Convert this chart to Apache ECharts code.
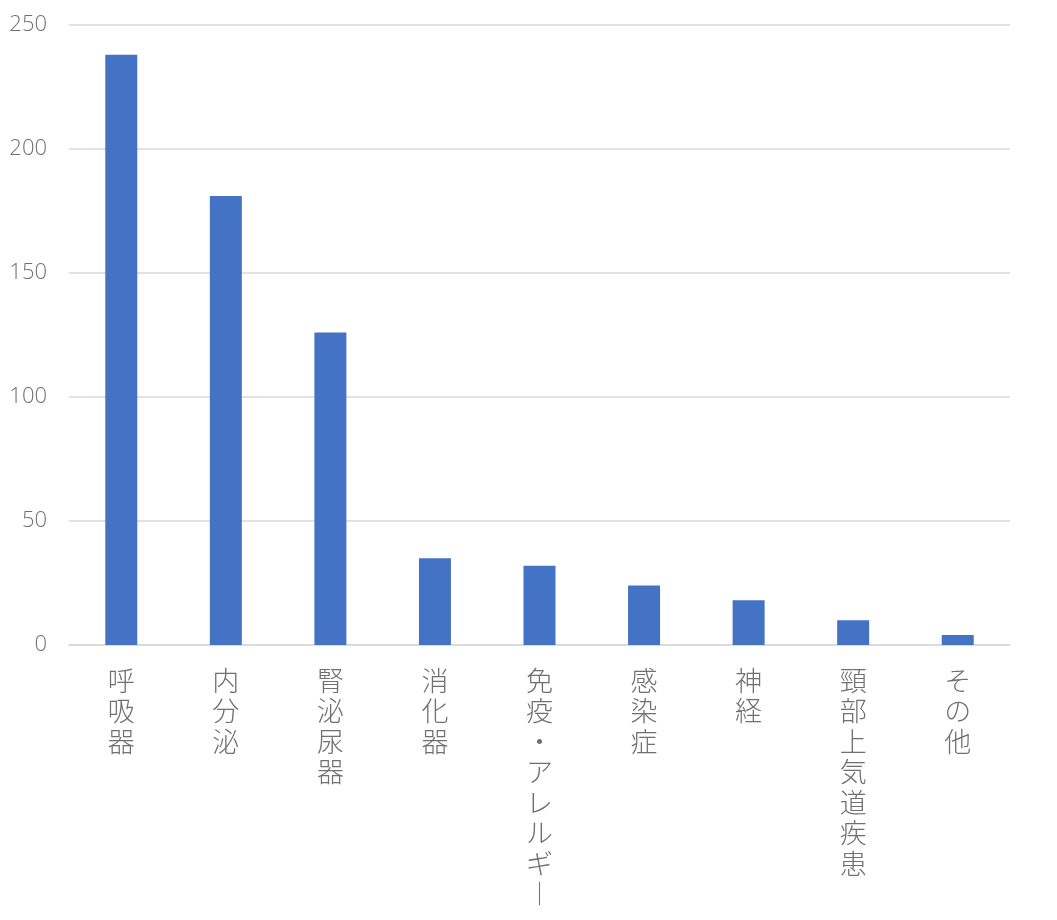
<!DOCTYPE html>
<html>
<head>
<meta charset="utf-8">
<script src="https://cdn.jsdelivr.net/npm/echarts@6/dist/echarts.min.js"></script>
<style>
  html, body { margin: 0; padding: 0; background: #fff; }
  #chart { width: 1057px; height: 920px; }
</style>
</head>
<body>
<div id="chart"></div>
<script>
var categories = ['呼吸器', '内分泌', '腎泌尿器', '消化器', '免疫・アレルギー', '感染症', '神経', '頸部上気道疾患', 'その他'];
var counts = [238, 181, 126, 35, 32, 24, 18, 10, 4];
var yTicks = [0, 50, 100, 150, 200, 250];

// 縦書き用: 一文字ずつ改行、長音は縦書き形に
function vertical(s) {
	return s.split('').map(function(c){
		return c === 'ー' ? '︱' : c;
	}).join('\n');
}

var myChart = echarts.init(document.getElementById('chart'));
var option = {
	animation: false,
	textStyle: {
		fontFamily: '"Noto Sans CJK JP", "Noto Sans", sans-serif'
	},
	grid: {
		left: 69,
		right: 47,
		top: 25,
		bottom: 275
	},
	xAxis: {
		type: 'category',
		data: categories,
		axisLine: { lineStyle: { color: '#d9d9d9', width: 1.5 } },
		axisTick: { show: false },
		axisLabel: {
			interval: 0,
			margin: 20,
			color: '#707070',
			fontSize: 27,
			fontWeight: 300,
			lineHeight: 30.5,
			verticalAlign: 'top',
			formatter: function(v){ return vertical(v); }
		}
	},
	yAxis: {
		type: 'value',
		min: yTicks[0],
		max: yTicks[yTicks.length - 1],
		interval: 50,
		axisLine: { show: false },
		axisTick: { show: false },
		splitLine: { lineStyle: { color: '#d9d9d9', width: 1.5 } },
		axisLabel: {
			margin: 22,
			color: '#707070',
			fontSize: 22,
			fontFamily: '"Open Sans", sans-serif',
			fontWeight: 300
		}
	},
	series: [
		{
			type: 'bar',
			data: counts,
			barWidth: 32,
			itemStyle: { color: '#4472c4' }
		}
	]
};
myChart.setOption(option);
</script>
</body>
</html>
